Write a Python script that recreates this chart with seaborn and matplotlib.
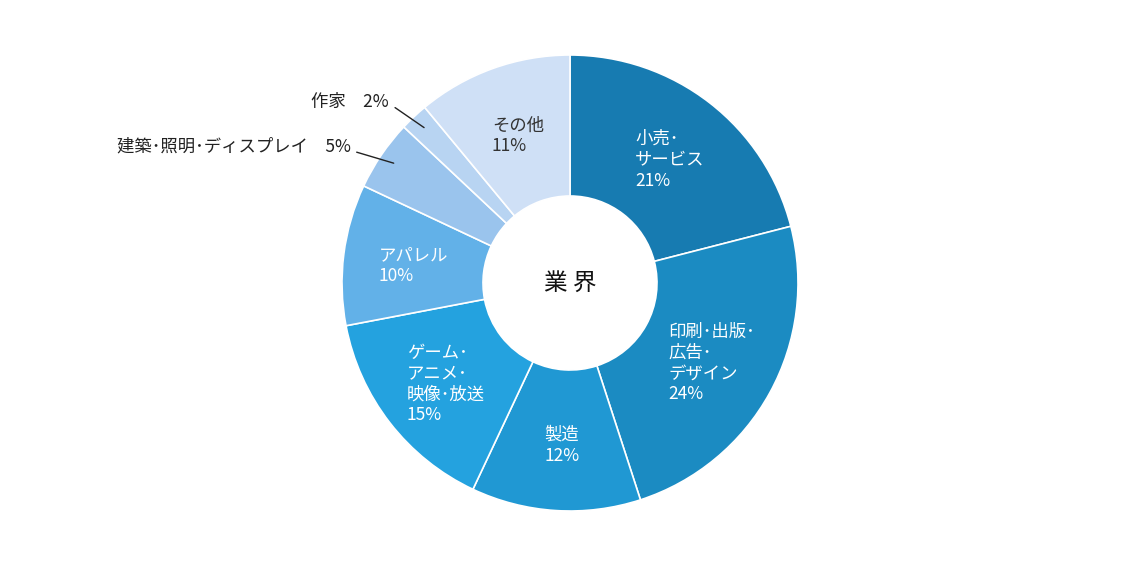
import numpy as np
import matplotlib.pyplot as plt
import seaborn as sns

# ---------------------------
# Data (clockwise from top)
# ---------------------------
categories = ["小売･\nサービス", "印刷･出版･\n広告･\nデザイン", "製造",
              "ゲーム･\nアニメ･\n映像･放送", "アパレル",
              "建築･照明･ディスプレイ", "作家", "その他"]
shares = [21, 24, 12, 15, 10, 5, 2, 11]
colors = ["#177bb1", "#1b8bc2", "#2098d3", "#24a2df",
          "#62b1e8", "#9ac4ed", "#b8d4f2", "#cfe0f6"]
outside = [False, False, False, False, False, True, True, False]
center_title = "業 界"

sns.set_theme(style="white")
plt.rcParams["font.family"] = ["Noto Sans CJK JP", "DejaVu Sans"]

W, H = 1140, 570
fig = plt.figure(figsize=(W / 100, H / 100), dpi=100)
ax = fig.add_axes([0, 0, 1, 1])

cx, cy, R = 570, 287, 228
wedges, _ = ax.pie(shares, colors=colors, startangle=90, counterclock=False,
                   radius=R, center=(cx, cy),
                   wedgeprops=dict(width=R - 87, edgecolor="white", linewidth=1.2))

ax.set_xlim(0, W)
ax.set_ylim(0, H)
ax.set_aspect("equal")
ax.axis("off")

# line end offsets for the small outside labels (pixels)
out_offsets = {"作家": (-29, 20), "建築･照明･ディスプレイ": (-37, 11)}

for w, name, pct, out in zip(wedges, categories, shares, outside):
    mid = np.deg2rad((w.theta1 + w.theta2) / 2)
    if not out:
        r = 0.70 * R
        x, y = cx + r * np.cos(mid) + 2, cy + r * np.sin(mid) - 3
        col = "#333333" if name == "その他" else "white"
        ax.text(x, y, f"{name}\n{pct}%", ha="center", va="center",
                multialignment="left", color=col, fontsize=12.5, linespacing=1.2)
    else:
        r = 0.935 * R
        x0, y0 = cx + r * np.cos(mid), cy + r * np.sin(mid)
        dx, dy = out_offsets[name]
        x1, y1 = x0 + dx, y0 + dy
        ax.plot([x0, x1], [y0, y1], color="#222222", lw=1)
        ax.text(x1 - 6, y1 + 6, f"{name}\u3000{pct}%", ha="right", va="center",
                color="#222222", fontsize=12.5)

ax.text(cx, cy, center_title, ha="center", va="center", fontsize=17, color="#111111")

fig.savefig("out.png", dpi=100)
